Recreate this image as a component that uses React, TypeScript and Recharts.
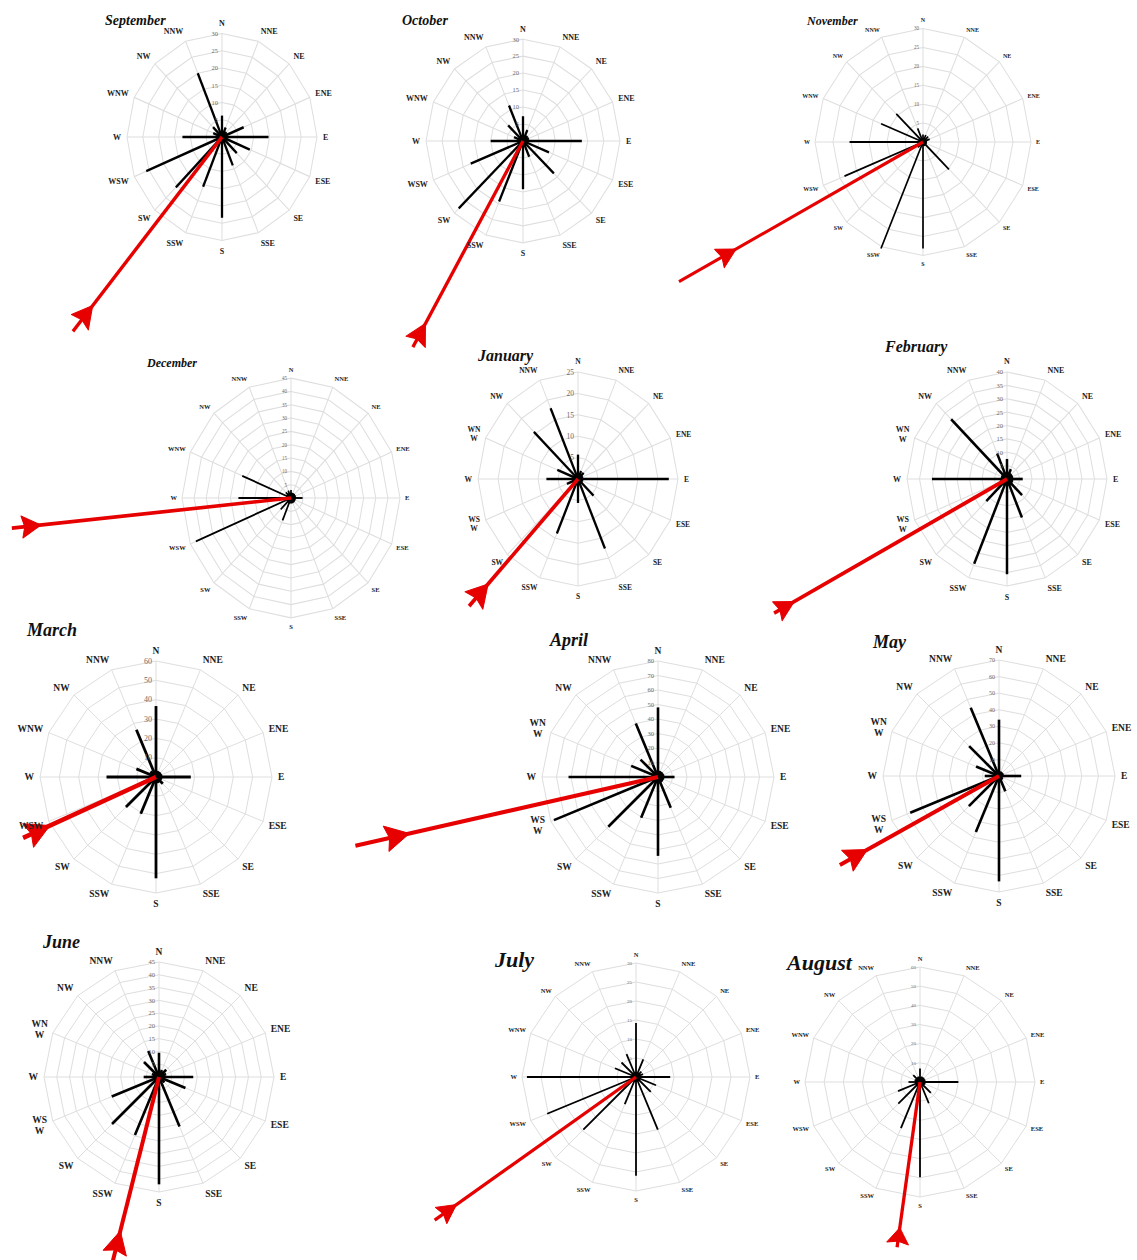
import React from 'react';
import { RadarChart, Radar, PolarGrid, PolarAngleAxis, PolarRadiusAxis } from 'recharts';

const DIRECTIONS = ['N', 'NNE', 'NE', 'ENE', 'E', 'ESE', 'SE', 'SSE', 'S', 'SSW', 'SW', 'WSW', 'W', 'WNW', 'NW', 'NNW'];
const MONTHS = ['September', 'October', 'November', 'December', 'January', 'February', 'March', 'April', 'May', 'June', 'July', 'August'];

const septemberSpeeds = [6.2, 3, 2, 7.4, 14.7, 9.5, 6.6, 8.9, 23.4, 15.6, 20.6, 25.9, 12.5, 3, 4, 20];
const octoberSpeeds = [7.3, 3.5, 2, 2, 18.2, 8.7, 13.5, 5, 14.2, 19.3, 28.1, 17.5, 10, 3, 6.5, 11.3];
const novemberSpeeds = [2, 2, 2, 2, 1, 1, 10.2, 1, 28.2, 30.5, 2, 23.6, 20.4, 12.6, 10.5, 3.9];
const decemberSpeeds = [3, 2, 2, 2, 4.8, 1, 1, 1, 2, 9.1, 6, 42.5, 21.7, 21.8, 3, 3];
const januarySpeeds = [5.7, 2, 2, 1, 22.7, 1, 5.5, 17.6, 5.6, 13.8, 2, 3, 7.9, 5.6, 15.6, 17.9];
const februarySpeeds = [7.5, 4, 2, 2, 6.3, 2, 8.5, 15.6, 35.6, 34.3, 11.7, 3, 30, 2, 31.6, 10.3];
const marchSpeeds = [36.7, 2, 2, 2, 18, 2, 5, 3, 52.4, 20.6, 22, 8, 25.6, 11, 4, 26.5];
const aprilSpeeds = [48, 3, 3, 4, 11.4, 3, 3, 23, 54.4, 30.4, 48.5, 77.7, 61.7, 20, 17, 40];
const maySpeeds = [34, 3, 3, 3, 13.4, 2, 3, 10, 63.6, 36.5, 25.7, 58, 8.6, 15, 25.5, 44.6];
const juneSpeeds = [9.5, 3, 4, 3, 13.4, 11.2, 3, 21, 42, 24.6, 26, 20, 6, 3, 8.3, 11];
const julySpeeds = [14.2, 5, 2, 2, 9, 5.7, 5.5, 15, 26, 7.7, 19.6, 25.3, 28.7, 6, 5.4, 6.5];
const augustSpeeds = [7, 3, 3, 3, 20, 3, 8, 12, 49.7, 26, 16, 12.4, 6, 3, 5, 3];

const MONTH_SPEEDS = [
  septemberSpeeds, octoberSpeeds, novemberSpeeds, decemberSpeeds, januarySpeeds, februarySpeeds,
  marchSpeeds, aprilSpeeds, maySpeeds, juneSpeeds, julySpeeds, augustSpeeds,
];

// resultant arrow: bearing (degrees clockwise from N) and length (axis units)
const arrowBearings = [219.9, 209.3, 241.4, 264.4, 222.5, 241.7, 245.4, 257.2, 240.8, 194.1, 234.6, 187.9];
const arrowLengths = [73.4, 69.6, 77.2, 115.8, 40.3, 105.8, 75.6, 214, 110, 74, 65, 87];

const ticks25 = [0, 5, 10, 15, 20, 25];
const ticks30 = [0, 5, 10, 15, 20, 25, 30];
const ticks40 = [0, 5, 10, 15, 20, 25, 30, 35, 40];
const ticks45 = [0, 5, 10, 15, 20, 25, 30, 35, 40, 45];
const ticks60 = [0, 10, 20, 30, 40, 50, 60];
const ticks70 = [0, 10, 20, 30, 40, 50, 60, 70];
const ticks80 = [0, 10, 20, 30, 40, 50, 60, 70, 80];
const MONTH_TICKS = [ticks30, ticks30, ticks30, ticks45, ticks25, ticks40, ticks60, ticks80, ticks70, ticks45, ticks30, ticks60];

const splitLabels = [false, false, false, false, true, true, false, true, true, true, false, false];

const LAYOUT = [
  { cx: 222, cy: 137, r: 95, sy: 1.09, labelFs: 8, tickFs: 6.5, gap: 6, titleX: 105, titleY: 21, titleFs: 14, spokeW: 2.3, dotR: 5.5, arrowW: 3.3, headL: 20, headW: 11, headAt: 0.91 },
  { cx: 523, cy: 141, r: 97, sy: 1.05, labelFs: 8, tickFs: 6.5, gap: 6, titleX: 402, titleY: 21, titleFs: 14, spokeW: 2.3, dotR: 5.5, arrowW: 3.3, headL: 20, headW: 11, headAt: 0.93 },
  { cx: 923, cy: 142, r: 108, sy: 1.05, labelFs: 6, tickFs: 5, gap: 5, titleX: 807, titleY: 21, titleFs: 12, spokeW: 1.7, dotR: 4, arrowW: 3, headL: 19, headW: 10, headAt: 0.8 },
  { cx: 291, cy: 498, r: 109, sy: 1.1, labelFs: 6.5, tickFs: 5, gap: 5, titleX: 147, titleY: 363, titleFs: 12, spokeW: 1.7, dotR: 5, arrowW: 3.3, headL: 19, headW: 10, headAt: 0.93 },
  { cx: 578, cy: 479, r: 100, sy: 1.07, labelFs: 7.5, tickFs: 7.5, gap: 6, titleX: 478, titleY: 356, titleFs: 16, spokeW: 2.3, dotR: 5.5, arrowW: 3.6, headL: 21, headW: 12, headAt: 0.89 },
  { cx: 1007, cy: 479, r: 100, sy: 1.07, labelFs: 8, tickFs: 6.5, gap: 6, titleX: 885, titleY: 347, titleFs: 16, spokeW: 2.5, dotR: 6.5, arrowW: 3.6, headL: 19, headW: 10, headAt: 0.95 },
  { cx: 156, cy: 777, r: 116, sy: 1, labelFs: 9.5, tickFs: 8, gap: 6, titleX: 27, titleY: 630, titleFs: 18, spokeW: 2.8, dotR: 6.5, arrowW: 4.5, headL: 24, headW: 13, headAt: 0.88 },
  { cx: 658, cy: 777, r: 116, sy: 1, labelFs: 9.5, tickFs: 6.5, gap: 6, titleX: 550, titleY: 640, titleFs: 18, spokeW: 2.6, dotR: 6.5, arrowW: 4, headL: 24, headW: 13, headAt: 0.86 },
  { cx: 999, cy: 776, r: 116, sy: 1, labelFs: 9.5, tickFs: 6, gap: 6, titleX: 873, titleY: 642, titleFs: 18, spokeW: 2.6, dotR: 4, arrowW: 4, headL: 23, headW: 12, headAt: 0.89 },
  { cx: 159, cy: 1077, r: 115, sy: 1, labelFs: 9.5, tickFs: 6.5, gap: 6, titleX: 43, titleY: 942, titleFs: 18, spokeW: 2.6, dotR: 4, arrowW: 4, headL: 23, headW: 12, headAt: 0.9 },
  { cx: 636, cy: 1077, r: 114, sy: 1, labelFs: 6.5, tickFs: 5, gap: 5, titleX: 495, titleY: 960, titleFs: 22, spokeW: 1.8, dotR: 5, arrowW: 3.2, headL: 19, headW: 10, headAt: 0.93 },
  { cx: 920, cy: 1082, r: 115, sy: 1, labelFs: 6.5, tickFs: 5, gap: 5, titleX: 787, titleY: 963, titleFs: 22, spokeW: 1.8, dotR: 5, arrowW: 3.3, headL: 16, headW: 11, headAt: 0.93 },
];

const SERIF = "'Liberation Serif', 'Times New Roman', serif";
const RED = '#e60000';

function AngleTick(props: any) {
  const { x, y, payload, fs, split } = props;
  const a = (payload.coordinate * Math.PI) / 180;
  const c = Math.cos(a);
  const s = Math.sin(a);
  const label: string = String(payload.value);
  let anchor = Math.abs(c) < 0.2 ? 'middle' : c > 0 ? 'start' : 'end';
  let lines = [label];
  let tx = x;
  if (split && (label === 'WNW' || label === 'WSW')) {
    lines = [label.slice(0, 2), label.slice(2)];
    anchor = 'middle';
    tx = x - fs * 0.8;
  }
  const lh = fs * 1.15;
  const baseY = y - s * fs * 0.5 + fs * 0.35 - (lh * (lines.length - 1)) / 2;
  return (
    <text textAnchor={anchor} fontFamily={SERIF} fontWeight="bold" fontSize={fs} fill="#222">
      {lines.map((l, i) => (
        <tspan key={i} x={tx} y={baseY + i * lh}>
          {l}
        </tspan>
      ))}
    </text>
  );
}

function RadiusTick(props: any) {
  const { x, y, payload, fs } = props;
  if (payload.value === 0) return <g />;
  return (
    <text x={x - 4} y={y} dy={fs * 0.35} textAnchor="end" fontFamily={SERIF} fontSize={fs} fill="#6a6a6a">
      {payload.value}
    </text>
  );
}

function SpokeShape(props: any) {
  const { points, spokeW, dotR } = props;
  if (!points || !points.length) return <g />;
  const { cx, cy } = points[0];
  return (
    <g>
      {points.map((p: any, i: number) => (
        <line key={i} x1={cx} y1={cy} x2={p.x} y2={p.y} stroke="#000" strokeWidth={spokeW} strokeLinecap="butt" />
      ))}
      <circle cx={cx} cy={cy} r={dotR} fill="#000" />
    </g>
  );
}

function ArrowShape(props: any) {
  const { points, bearing, arrowW, headL, headW, headAt } = props;
  if (!points || !points.length) return <g />;
  const { cx, cy, radius } = points[0];
  const t = ((90 - bearing) * Math.PI) / 180;
  const ux = Math.cos(t);
  const uy = -Math.sin(t);
  const ex = cx + ux * radius;
  const ey = cy + uy * radius;
  const bd = radius * headAt + headL / 2;
  const bx = cx + ux * bd;
  const by = cy + uy * bd;
  const tx = bx - ux * headL;
  const ty = by - uy * headL;
  const nx = bx - ux * headL * 0.15;
  const ny = by - uy * headL * 0.15;
  const px = -uy;
  const py = ux;
  const poly = `${tx},${ty} ${bx + px * headW},${by + py * headW} ${nx},${ny} ${bx - px * headW},${by - py * headW}`;
  return (
    <g>
      <line x1={cx} y1={cy} x2={ex} y2={ey} stroke={RED} strokeWidth={arrowW} />
      <polygon points={poly} fill={RED} stroke={RED} strokeWidth={1} strokeLinejoin="round" />
    </g>
  );
}

function WindRose({ idx }: { idx: number }) {
  const L = LAYOUT[idx];
  const speeds = MONTH_SPEEDS[idx];
  const ticks = MONTH_TICKS[idx];
  const max = ticks[ticks.length - 1];
  const data = DIRECTIONS.map((d, i) => ({ dir: d, speed: speeds[i], arrow: arrowLengths[idx] }));
  const W = 2 * L.r + 160;
  const H = 2 * L.r + 80;
  return (
    <>
      <div
        style={{
          position: 'absolute',
          left: L.cx - W / 2,
          top: L.cy - H / 2,
          width: W,
          height: H,
          transform: `scaleY(${L.sy})`,
          transformOrigin: `${W / 2}px ${H / 2}px`,
        }}
      >
        <RadarChart width={W} height={H} cx={W / 2} cy={H / 2} outerRadius={L.r} data={data} margin={{ top: 0, right: 0, bottom: 0, left: 0 }}>
          <PolarGrid gridType="polygon" stroke="#dedede" strokeWidth={1} />
          <PolarAngleAxis
            dataKey="dir"
            tickLine={false}
            axisLine={false}
            tickSize={L.gap}
            tick={(p: any) => <AngleTick {...p} fs={L.labelFs} split={splitLabels[idx]} />}
          />
          <PolarRadiusAxis
            angle={90}
            type="number"
            domain={[0, max]}
            ticks={ticks as any}
            tickCount={ticks.length}
            allowDataOverflow
            axisLine={false}
            tick={(p: any) => <RadiusTick {...p} fs={L.tickFs} />}
          />
          <Radar
            dataKey="speed"
            isAnimationActive={false}
            shape={(p: any) => <SpokeShape {...p} spokeW={L.spokeW} dotR={L.dotR} />}
          />
          <Radar
            dataKey="arrow"
            isAnimationActive={false}
            shape={(p: any) => (
              <ArrowShape {...p} bearing={arrowBearings[idx]} arrowW={L.arrowW} headL={L.headL} headW={L.headW} headAt={L.headAt} />
            )}
          />
        </RadarChart>
      </div>
      <div
        style={{
          position: 'absolute',
          left: L.titleX,
          top: L.titleY - L.titleFs * 0.5,
          fontFamily: SERIF,
          fontWeight: 'bold',
          fontStyle: 'italic',
          fontSize: L.titleFs,
          lineHeight: 1,
          color: '#111',
          whiteSpace: 'nowrap',
        }}
      >
        {MONTHS[idx]}
      </div>
    </>
  );
}

export default function App() {
  return (
    <div style={{ position: 'absolute', left: 0, top: 0, width: 1137, height: 1260, background: '#fff', overflow: 'hidden' }}>
      <style>{`.recharts-surface{overflow:visible}.recharts-wrapper{overflow:visible}`}</style>
      {MONTHS.map((m, i) => (
        <WindRose key={m} idx={i} />
      ))}
    </div>
  );
}
